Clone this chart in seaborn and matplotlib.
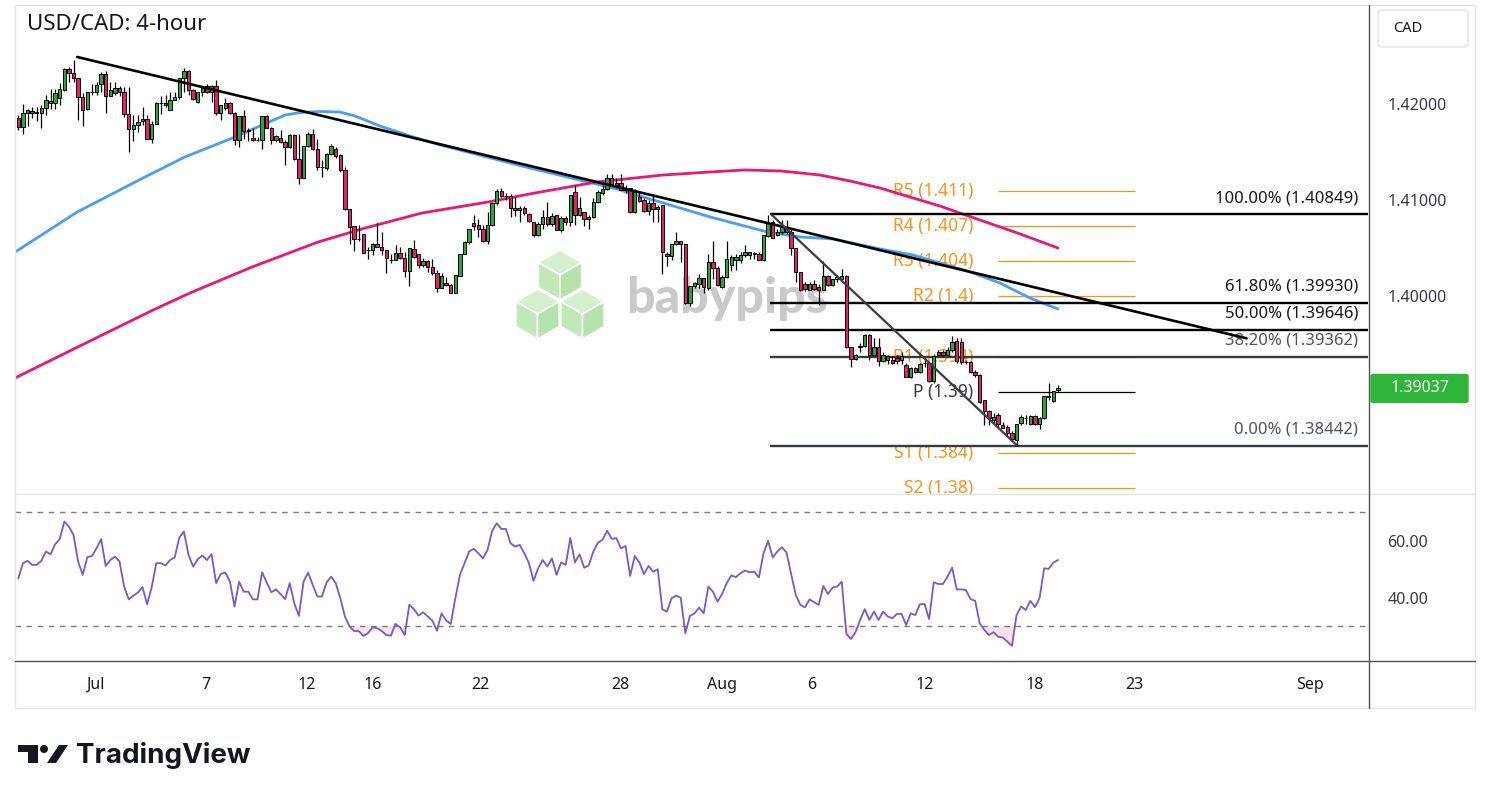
import numpy as np
import pandas as pd
import matplotlib.pyplot as plt
from matplotlib.patches import Polygon, FancyBboxPatch, Rectangle, Ellipse
from matplotlib.lines import Line2D
import seaborn as sns

sns.set_theme(style='white')
plt.rcParams['font.family'] = ['Noto Sans', 'DejaVu Sans']

# 4-hour candles
opens = [1.4185, 1.4176, 1.4191, 1.4193, 1.4191, 1.4191, 1.4196, 1.4203, 1.4201, 1.4206,
         1.4215, 1.4236, 1.4232, 1.4227, 1.4207, 1.4195, 1.4212, 1.4213, 1.4221, 1.4231,
         1.4208, 1.4211, 1.4217, 1.4213, 1.4190, 1.4174, 1.4178, 1.4182, 1.4184, 1.4164,
         1.4179, 1.4201, 1.4201, 1.4194, 1.4204, 1.4207, 1.4227, 1.4234, 1.4215, 1.4202,
         1.4212, 1.4219, 1.4212, 1.4219, 1.4191, 1.4196, 1.4201, 1.4191, 1.4162, 1.4187,
         1.4172, 1.4165, 1.4162, 1.4162, 1.4188, 1.4175, 1.4163, 1.4165, 1.4160, 1.4155,
         1.4168, 1.4143, 1.4123, 1.4156, 1.4169, 1.4153, 1.4134, 1.4133, 1.4148, 1.4153,
         1.4147, 1.4131, 1.4091, 1.4073, 1.4059, 1.4065, 1.4048, 1.4048, 1.4054, 1.4051,
         1.4048, 1.4037, 1.4037, 1.4045, 1.4040, 1.4026, 1.4049, 1.4044, 1.4032, 1.4036,
         1.4030, 1.4024, 1.4008, 1.4014, 1.4011, 1.4003, 1.4021, 1.4044, 1.4056, 1.4076,
         1.4074, 1.4070, 1.4057, 1.4074, 1.4097, 1.4109, 1.4104, 1.4104, 1.4092, 1.4090,
         1.4092, 1.4085, 1.4077, 1.4064, 1.4075, 1.4082, 1.4075, 1.4084, 1.4069, 1.4081,
         1.4077, 1.4108, 1.4084, 1.4088, 1.4080, 1.4082, 1.4098, 1.4107, 1.4111, 1.4123,
         1.4118, 1.4118, 1.4112, 1.4112, 1.4087, 1.4103, 1.4100, 1.4089, 1.4097, 1.4091,
         1.4095, 1.4044, 1.4042, 1.4054, 1.4057, 1.4054, 1.3993, 1.4010, 1.4013, 1.4019,
         1.4008, 1.4035, 1.4029, 1.4009, 1.4020, 1.4032, 1.4038, 1.4038, 1.4043, 1.4046,
         1.4044, 1.4044, 1.4038, 1.4062, 1.4077, 1.4064, 1.4067, 1.4070, 1.4067, 1.4050,
         1.4025, 1.4013, 1.4006, 1.4013, 1.4009, 1.4006, 1.4021, 1.4011, 1.4018, 1.4018,
         1.4021, 1.3947, 1.3934, 1.3947, 1.3948, 1.3959, 1.3939, 1.3947, 1.3932, 1.3937,
         1.3933, 1.3935, 1.3933, 1.3928, 1.3916, 1.3925, 1.3921, 1.3930, 1.3930, 1.3911,
         1.3942, 1.3942, 1.3939, 1.3944, 1.3953, 1.3952, 1.3931, 1.3931, 1.3921, 1.3918,
         1.3892, 1.3880, 1.3871, 1.3876, 1.3866, 1.3864, 1.3857, 1.3850, 1.3868, 1.3873,
         1.3867, 1.3875, 1.3867, 1.3873, 1.3895, 1.3891, 1.3902]
highs = [1.4189, 1.4200, 1.4195, 1.4197, 1.4197, 1.4199, 1.4209, 1.4216, 1.4216, 1.4222,
         1.4237, 1.4239, 1.4246, 1.4227, 1.4211, 1.4213, 1.4221, 1.4223, 1.4233, 1.4234,
         1.4223, 1.4223, 1.4219, 1.4218, 1.4218, 1.4189, 1.4189, 1.4197, 1.4189, 1.4182,
         1.4202, 1.4208, 1.4209, 1.4212, 1.4213, 1.4227, 1.4237, 1.4235, 1.4216, 1.4213,
         1.4218, 1.4221, 1.4220, 1.4225, 1.4199, 1.4206, 1.4202, 1.4192, 1.4187, 1.4194,
         1.4175, 1.4175, 1.4166, 1.4188, 1.4189, 1.4176, 1.4168, 1.4173, 1.4162, 1.4169,
         1.4169, 1.4169, 1.4156, 1.4171, 1.4174, 1.4164, 1.4142, 1.4149, 1.4158, 1.4155,
         1.4148, 1.4134, 1.4091, 1.4073, 1.4074, 1.4065, 1.4051, 1.4055, 1.4076, 1.4067,
         1.4048, 1.4044, 1.4053, 1.4051, 1.4046, 1.4050, 1.4058, 1.4044, 1.4040, 1.4038,
         1.4039, 1.4027, 1.4024, 1.4020, 1.4013, 1.4022, 1.4044, 1.4057, 1.4070, 1.4084,
         1.4080, 1.4074, 1.4088, 1.4097, 1.4111, 1.4112, 1.4107, 1.4106, 1.4103, 1.4094,
         1.4094, 1.4086, 1.4077, 1.4077, 1.4090, 1.4098, 1.4086, 1.4084, 1.4083, 1.4083,
         1.4105, 1.4116, 1.4103, 1.4088, 1.4084, 1.4102, 1.4110, 1.4116, 1.4127, 1.4127,
         1.4123, 1.4127, 1.4116, 1.4112, 1.4111, 1.4108, 1.4102, 1.4100, 1.4106, 1.4095,
         1.4095, 1.4046, 1.4054, 1.4067, 1.4057, 1.4054, 1.4010, 1.4015, 1.4023, 1.4019,
         1.4044, 1.4057, 1.4031, 1.4022, 1.4057, 1.4043, 1.4044, 1.4046, 1.4053, 1.4046,
         1.4046, 1.4046, 1.4064, 1.4084, 1.4079, 1.4070, 1.4079, 1.4079, 1.4070, 1.4050,
         1.4025, 1.4015, 1.4015, 1.4017, 1.4013, 1.4036, 1.4022, 1.4018, 1.4022, 1.4028,
         1.4022, 1.3947, 1.3940, 1.3951, 1.3960, 1.3960, 1.3956, 1.3956, 1.3942, 1.3939,
         1.3937, 1.3939, 1.3942, 1.3930, 1.3926, 1.3926, 1.3930, 1.3935, 1.3930, 1.3940,
         1.3944, 1.3944, 1.3947, 1.3958, 1.3956, 1.3956, 1.3933, 1.3932, 1.3923, 1.3919,
         1.3892, 1.3881, 1.3878, 1.3878, 1.3869, 1.3866, 1.3859, 1.3867, 1.3876, 1.3876,
         1.3876, 1.3876, 1.3874, 1.3896, 1.3909, 1.3901, 1.3907]
lows = [1.4173, 1.4169, 1.4177, 1.4185, 1.4182, 1.4175, 1.4189, 1.4195, 1.4195, 1.4199,
        1.4214, 1.4223, 1.4223, 1.4183, 1.4177, 1.4194, 1.4209, 1.4209, 1.4213, 1.4191,
        1.4208, 1.4209, 1.4208, 1.4186, 1.4150, 1.4161, 1.4171, 1.4178, 1.4164, 1.4159,
        1.4179, 1.4190, 1.4197, 1.4194, 1.4204, 1.4205, 1.4212, 1.4209, 1.4204, 1.4201,
        1.4208, 1.4211, 1.4202, 1.4189, 1.4183, 1.4194, 1.4190, 1.4157, 1.4155, 1.4164,
        1.4161, 1.4161, 1.4161, 1.4153, 1.4175, 1.4158, 1.4160, 1.4159, 1.4136, 1.4154,
        1.4142, 1.4117, 1.4123, 1.4155, 1.4152, 1.4131, 1.4124, 1.4131, 1.4147, 1.4144,
        1.4129, 1.4090, 1.4054, 1.4047, 1.4057, 1.4045, 1.4039, 1.4043, 1.4051, 1.4043,
        1.4024, 1.4034, 1.4037, 1.4039, 1.4020, 1.4010, 1.4040, 1.4029, 1.4030, 1.4025,
        1.4022, 1.4004, 1.4008, 1.4010, 1.4003, 1.4003, 1.4021, 1.4044, 1.4054, 1.4069,
        1.4061, 1.4056, 1.4054, 1.4073, 1.4095, 1.4103, 1.4100, 1.4082, 1.4083, 1.4077,
        1.4084, 1.4077, 1.4061, 1.4062, 1.4070, 1.4073, 1.4073, 1.4069, 1.4067, 1.4074,
        1.4073, 1.4074, 1.4083, 1.4073, 1.4070, 1.4081, 1.4097, 1.4105, 1.4110, 1.4116,
        1.4112, 1.4110, 1.4107, 1.4086, 1.4086, 1.4098, 1.4088, 1.4084, 1.4077, 1.4077,
        1.4023, 1.4031, 1.4038, 1.4053, 1.4035, 1.3992, 1.3990, 1.4008, 1.4008, 1.4003,
        1.4006, 1.4018, 1.4010, 1.4008, 1.4019, 1.4026, 1.4027, 1.4034, 1.4041, 1.4039,
        1.4039, 1.4038, 1.4036, 1.4061, 1.4060, 1.4063, 1.4065, 1.4065, 1.4043, 1.4015,
        1.4005, 1.4005, 1.4006, 1.4006, 1.3991, 1.4006, 1.4010, 1.4010, 1.4015, 1.4018,
        1.3946, 1.3926, 1.3933, 1.3942, 1.3947, 1.3933, 1.3937, 1.3927, 1.3931, 1.3929,
        1.3929, 1.3929, 1.3929, 1.3916, 1.3915, 1.3920, 1.3920, 1.3926, 1.3910, 1.3909,
        1.3937, 1.3938, 1.3937, 1.3942, 1.3930, 1.3929, 1.3929, 1.3920, 1.3916, 1.3889,
        1.3866, 1.3866, 1.3867, 1.3864, 1.3862, 1.3855, 1.3850, 1.3844, 1.3866, 1.3867,
        1.3866, 1.3866, 1.3861, 1.3872, 1.3892, 1.3890, 1.3900]
closes = [1.4176, 1.4191, 1.4194, 1.4191, 1.4192, 1.4196, 1.4204, 1.4201, 1.4211, 1.4216,
          1.4236, 1.4232, 1.4227, 1.4207, 1.4194, 1.4212, 1.4212, 1.4220, 1.4231, 1.4208,
          1.4215, 1.4217, 1.4213, 1.4190, 1.4174, 1.4178, 1.4181, 1.4184, 1.4164, 1.4179,
          1.4201, 1.4201, 1.4199, 1.4204, 1.4207, 1.4227, 1.4234, 1.4215, 1.4205, 1.4212,
          1.4217, 1.4212, 1.4219, 1.4191, 1.4199, 1.4201, 1.4191, 1.4162, 1.4187, 1.4172,
          1.4172, 1.4162, 1.4162, 1.4188, 1.4175, 1.4163, 1.4167, 1.4160, 1.4155, 1.4168,
          1.4143, 1.4123, 1.4156, 1.4169, 1.4153, 1.4134, 1.4134, 1.4148, 1.4156, 1.4146,
          1.4131, 1.4091, 1.4072, 1.4059, 1.4059, 1.4045, 1.4048, 1.4054, 1.4051, 1.4048,
          1.4040, 1.4037, 1.4045, 1.4040, 1.4026, 1.4050, 1.4041, 1.4032, 1.4036, 1.4030,
          1.4024, 1.4008, 1.4021, 1.4011, 1.4003, 1.4022, 1.4044, 1.4056, 1.4070, 1.4073,
          1.4070, 1.4057, 1.4074, 1.4097, 1.4109, 1.4104, 1.4104, 1.4092, 1.4090, 1.4092,
          1.4086, 1.4078, 1.4064, 1.4075, 1.4082, 1.4075, 1.4083, 1.4069, 1.4081, 1.4077,
          1.4105, 1.4084, 1.4092, 1.4080, 1.4082, 1.4098, 1.4108, 1.4111, 1.4123, 1.4117,
          1.4116, 1.4110, 1.4110, 1.4087, 1.4108, 1.4099, 1.4089, 1.4097, 1.4091, 1.4093,
          1.4046, 1.4042, 1.4054, 1.4057, 1.4054, 1.3993, 1.4010, 1.4014, 1.4019, 1.4009,
          1.4035, 1.4029, 1.4011, 1.4020, 1.4039, 1.4041, 1.4041, 1.4043, 1.4046, 1.4043,
          1.4044, 1.4038, 1.4064, 1.4076, 1.4060, 1.4067, 1.4072, 1.4067, 1.4050, 1.4025,
          1.4006, 1.4007, 1.4013, 1.4007, 1.4006, 1.4021, 1.4011, 1.4018, 1.4020, 1.4021,
          1.3947, 1.3934, 1.3939, 1.3948, 1.3959, 1.3939, 1.3947, 1.3932, 1.3939, 1.3933,
          1.3930, 1.3932, 1.3938, 1.3916, 1.3925, 1.3921, 1.3929, 1.3930, 1.3911, 1.3938,
          1.3939, 1.3939, 1.3944, 1.3952, 1.3932, 1.3931, 1.3931, 1.3921, 1.3918, 1.3890,
          1.3880, 1.3873, 1.3874, 1.3867, 1.3863, 1.3857, 1.3851, 1.3867, 1.3874, 1.3873,
          1.3875, 1.3867, 1.3873, 1.3896, 1.3895, 1.3901, 1.39037]
rsi = [46.9, 52.2, 53.0, 51.6, 51.6, 53.0, 56.3, 55.3, 58.8, 60.6,
       66.8, 65.0, 62.1, 52.8, 48.1, 54.3, 54.7, 57.4, 60.6, 51.2,
       53.3, 54.5, 52.8, 44.0, 39.5, 40.8, 41.9, 43.8, 37.8, 43.8,
       52.2, 52.2, 51.4, 53.3, 54.2, 61.2, 63.3, 55.1, 51.0, 53.6,
       54.9, 53.3, 55.4, 45.2, 48.4, 48.9, 45.7, 37.0, 45.7, 42.2,
       42.2, 39.5, 39.5, 49.0, 45.4, 42.0, 43.0, 41.4, 39.6, 45.2,
       38.1, 33.7, 45.7, 48.9, 44.6, 40.5, 40.5, 45.4, 47.5, 45.2,
       39.9, 33.5, 30.0, 28.4, 28.4, 26.7, 27.6, 29.7, 29.4, 28.4,
       27.0, 26.8, 30.9, 29.7, 27.0, 37.6, 36.1, 33.8, 35.0, 33.5,
       32.1, 28.5, 34.6, 32.1, 30.9, 39.9, 48.1, 52.2, 56.3, 57.2,
       55.7, 53.9, 56.8, 63.5, 66.2, 64.2, 64.2, 59.2, 58.0, 58.6,
       55.7, 52.2, 46.0, 50.4, 53.3, 51.0, 53.9, 48.1, 52.5, 51.6,
       61.0, 52.5, 55.3, 50.6, 51.4, 56.3, 59.4, 60.4, 63.6, 60.7,
       61.0, 57.4, 58.2, 47.7, 54.7, 52.5, 48.4, 51.2, 49.2, 50.1,
       36.0, 35.2, 39.9, 40.8, 40.1, 27.6, 33.7, 34.6, 36.6, 34.6,
       44.0, 42.2, 38.7, 41.4, 45.2, 47.9, 47.3, 48.7, 49.6, 49.0,
       49.2, 47.2, 55.7, 60.0, 54.2, 56.3, 57.8, 55.9, 48.4, 41.1,
       37.6, 36.7, 39.5, 38.5, 37.6, 44.2, 41.4, 43.6, 44.0, 45.7,
       27.4, 25.6, 28.0, 32.3, 36.1, 32.3, 35.2, 32.3, 35.2, 33.5,
       32.9, 34.4, 34.4, 30.5, 34.6, 34.0, 37.8, 37.9, 32.6, 45.5,
       44.9, 44.9, 47.5, 50.6, 43.0, 43.0, 42.8, 39.6, 39.0, 31.1,
       28.8, 27.0, 28.0, 26.4, 26.1, 24.7, 23.2, 34.0, 37.0, 35.8,
       39.0, 36.8, 39.9, 50.4, 50.2, 52.4, 53.3]

tick_pos = [16.7, 40.8, 62.8, 77.1, 100.4, 130.8, 153.0, 172.5, 197.1, 221.0, 242.5, 280.8]
tick_labels = ['Jul', '7', '12', '16', '22', '28', 'Aug', '6', '12', '18', '23', 'Sep']

# moving averages (traced points, bar index -> price)
ma_fast_idx = [-0.7, 12.8, 27.1, 36.2, 47.1, 52.5, 58.0, 61.2, 65.5, 69.8, 73.2, 78.6,
               85.1, 91.7, 111.2, 129.3, 150.4, 162.8, 170.0, 177.2, 187.3, 194.5,
               206.9, 213.4, 219.9, 226.0]
ma_fast = [1.40458, 1.40875, 1.41229, 1.41448, 1.41656, 1.41771, 1.41885, 1.41911,
           1.41922, 1.41917, 1.41875, 1.41771, 1.41667, 1.41573, 1.41333, 1.41125,
           1.40823, 1.40667, 1.40615, 1.40594, 1.40490, 1.40427, 1.40250, 1.40135,
           1.39979, 1.39865]
ma_slow_idx = [-0.7, 13.4, 29.3, 37.3, 50.8, 65.2, 75.4, 87.8, 102.1, 112.3, 125.8,
               140.1, 150.4, 158.0, 165.9, 174.3, 180.8, 187.3, 193.8, 200.3, 208.4,
               217.8, 226.0]
ma_slow = [1.39146, 1.39480, 1.39854, 1.40031, 1.40302, 1.40563, 1.40708, 1.40865,
           1.40979, 1.41073, 1.41188, 1.41260, 1.41292, 1.41313, 1.41302, 1.41260,
           1.41198, 1.41125, 1.41031, 1.40938, 1.40802, 1.40646, 1.40500]

trend_idx = [12.8, 267.0]
trend_val = [1.42490, 1.39559]
wedge_idx = [163.8, 217.0]
wedge_val = [1.40844, 1.38448]

fib_start = 163.4
fib_levels = [1.40849, 1.39930, 1.39646, 1.39362, 1.38442]
fib_labels = ['100.00% (1.40849)', '61.80% (1.39930)', '50.00% (1.39646)',
              '38.20% (1.39362)', '0.00% (1.38442)']

pivot_span = [212.9, 242.8]
pivot_levels = [1.4109, 1.4073, 1.4036, 1.4000, 1.3936, 1.3900, 1.3836, 1.3800]
pivot_labels = ['R5 (1.411)', 'R4 (1.407)', 'R3 (1.404)', 'R2 (1.4)', 'R1 (1.394)',
                'P (1.39)', 'S1 (1.384)', 'S2 (1.38)']

price_ticks = [1.40, 1.41, 1.42]
rsi_ticks = [40, 60]

GREEN = '#22ab2f'
PINK = '#e91e6b'
ORANGE = '#f7941d'
TEXT = '#131722'

W, H = 1491, 799
fig = plt.figure(figsize=(W / 100, H / 100), dpi=100)
fig.patch.set_facecolor('white')


def fx(px):
    return px / W


def fy(py):
    return 1 - py / H


ax = fig.add_axes([fx(15), fy(494), fx(1368) - fx(15), fy(5) - fy(494)])
ax_rsi = fig.add_axes([fx(15), fy(660), fx(1368) - fx(15), fy(495) - fy(660)])
XMAX = 293.4
for a in (ax, ax_rsi):
    a.set_xlim(-0.72, XMAX)
    for s in a.spines.values():
        s.set_visible(False)
ax.set_ylim(1.379375, 1.430313)
ax_rsi.set_ylim(18.25, 76.1)

df = pd.DataFrame({'open': opens, 'high': highs, 'low': lows, 'close': closes, 'rsi': rsi})
df['i'] = np.arange(len(df))
df['color'] = np.where(df['close'] >= df['open'], GREEN, PINK)

# watermark
for cx, cy in [(560, 275), (537.5, 314), (582.5, 314)]:
    r = 25
    v = {a: (cx + r * np.cos(np.radians(a)), cy - r * np.sin(np.radians(a)))
         for a in (30, 90, 150, 210, 270, 330)}
    faces = [([(cx, cy), v[30], v[90], v[150]], '#d3efcc'),
             ([(cx, cy), v[150], v[210], v[270]], '#c2e8b8'),
             ([(cx, cy), v[270], v[330], v[30]], '#b6e2ab')]
    for pts, col in faces:
        ax.add_patch(Polygon([(fx(px), fy(py)) for px, py in pts], closed=True,
                             transform=fig.transFigure, fc=col, ec='white', lw=1.2,
                             zorder=0.5, clip_on=False))
ax.text(fx(626), fy(313), 'babypips', transform=fig.transFigure, fontsize=36,
        fontweight='black', color='#c9c9c9', ha='left', va='baseline', zorder=0.6,
        family=['Lato', 'DejaVu Sans'])

# pivot levels
for lvl, lab in zip(pivot_levels, pivot_labels):
    is_p = lab.startswith('P')
    ax.hlines(lvl, pivot_span[0], pivot_span[1], color='black' if is_p else ORANGE,
              lw=0.9, zorder=1)
    ax.text(207.6, lvl, lab, ha='right', va='center', fontsize=12.5,
            color='#3a3a3a' if is_p else ORANGE, zorder=1)

# fibonacci
for k, (lvl, lab) in enumerate(zip(fib_levels, fib_labels)):
    lc = 'black' if k < 3 else '#363a45'
    ax.hlines(lvl, fib_start, XMAX, color=lc, lw=1.7, zorder=2.5)
    ax.annotate(lab, xy=(291.2, lvl), xytext=(0, 6), textcoords='offset points',
                ha='right', va='bottom', fontsize=12,
                color=TEXT if k < 3 else '#50535e', zorder=2.5)

# moving averages
sns.lineplot(x=ma_fast_idx, y=ma_fast, ax=ax, color='#4a9ef2', lw=2.0, zorder=2)
sns.lineplot(x=ma_slow_idx, y=ma_slow, ax=ax, color='#e8177a', lw=2.0, zorder=2)

# candles
ax.vlines(df['i'], df['low'], df['high'], color='black', lw=0.9, zorder=3)
body = (df['close'] - df['open']).abs().clip(lower=0.00004)
ax.bar(df['i'], body, bottom=df[['open', 'close']].min(axis=1), width=0.72,
       color=df['color'], edgecolor='black', linewidth=0.7, zorder=4)

# drawn trend lines
ax.plot(trend_idx, trend_val, color='black', lw=1.9, zorder=6, solid_capstyle='round')
ax.plot(wedge_idx, wedge_val, color='#3a3d48', lw=1.6, zorder=6, solid_capstyle='round')

ax.set_xlabel('')
ax.set_ylabel('')
ax.set_xticks([])
ax.yaxis.tick_right()
ax.set_yticks(price_ticks)
ax.set_yticklabels([f'{p:.5f}' for p in price_ticks])
ax.tick_params(axis='y', length=0, pad=14, labelsize=11.5, labelcolor='#363a45')

# RSI panel
ax_rsi.axhline(70, color='#787b86', lw=1, ls=(0, (4, 4)))
ax_rsi.axhline(30, color='#787b86', lw=1, ls=(0, (4, 4)))
ax_rsi.fill_between(df['i'], df['rsi'], 30, where=df['rsi'] < 30, interpolate=True,
                    color='#f9cfdc', alpha=0.6, lw=0)
sns.lineplot(x=df['i'], y=df['rsi'], ax=ax_rsi, color='#7e57c2', lw=1.3)
ax_rsi.set_xlabel('')
ax_rsi.set_ylabel('')
ax_rsi.set_xticks(tick_pos)
ax_rsi.set_xticklabels(tick_labels)
ax_rsi.yaxis.tick_right()
ax_rsi.set_yticks(rsi_ticks)
ax_rsi.set_yticklabels([f'{t:.2f}' for t in rsi_ticks])
ax_rsi.tick_params(axis='y', length=0, pad=14, labelsize=11.5, labelcolor='#363a45')
ax_rsi.tick_params(axis='x', length=0, pad=12, labelsize=11.5, labelcolor=TEXT)

# frame and separators
fig.add_artist(Rectangle((fx(15), fy(708)), fx(1475) - fx(15), fy(5) - fy(708),
                         transform=fig.transFigure, fill=False, ec='#e6e6e6', lw=1))
fig.add_artist(Line2D([fx(15), fx(1475)], [fy(494.5)] * 2, color='#e0e3eb', lw=1))
fig.add_artist(Line2D([fx(15), fx(1475)], [fy(660.5)] * 2, color='#50535e', lw=1))
fig.add_artist(Line2D([fx(1368.5)] * 2, [fy(5), fy(708)], color='#50535e', lw=1))

# currency box
fig.add_artist(FancyBboxPatch((fx(1378), fy(47)), fx(1468) - fx(1378), fy(10) - fy(47),
                              boxstyle='round,pad=0,rounding_size=0.004',
                              transform=fig.transFigure, fc='white', ec='#e0e3eb', lw=1))
fig.text(fx(1393), fy(29), 'CAD', fontsize=10.5, color=TEXT, ha='left', va='center')

# last price tag
ypix = ax.transData.transform((0, closes[-1]))[1]
yc = ypix / H
fig.add_artist(FancyBboxPatch((fx(1371), yc - 14 / H), fx(1468) - fx(1371), 28 / H,
                              boxstyle='round,pad=0,rounding_size=0.002',
                              transform=fig.transFigure, fc='#2fb53a', ec='#2fb53a'))
fig.text(fx(1420), yc, f'{closes[-1]:.5f}', fontsize=11.5, color='white',
         ha='center', va='center')

# title
fig.text(fx(27), fy(24), 'USD/CAD: 4-hour', fontsize=16, color=TEXT, ha='left', va='center')

# TradingView logo
fig.add_artist(Rectangle((fx(18), fy(752)), fx(38) - fx(18), fy(745) - fy(752),
                         transform=fig.transFigure, fc='#131722', ec='none'))
fig.add_artist(Rectangle((fx(28), fy(763)), fx(38) - fx(28), fy(745) - fy(763),
                         transform=fig.transFigure, fc='#131722', ec='none'))
fig.add_artist(Ellipse((fx(44), fy(749)), 8 / W, 8 / H, transform=fig.transFigure,
                       fc='#131722', ec='none'))
fig.add_artist(Polygon([(fx(47), fy(763)), (fx(56), fy(763)), (fx(68), fy(745)),
                        (fx(59), fy(745))], closed=True, transform=fig.transFigure,
                       fc='#131722', ec='none'))
fig.text(fx(76), fy(763), 'TradingView', fontsize=20, fontweight='bold', color='#131722',
         ha='left', va='baseline', family=['Inter', 'DejaVu Sans'])

fig.savefig('out.png', dpi=100, facecolor='white')
